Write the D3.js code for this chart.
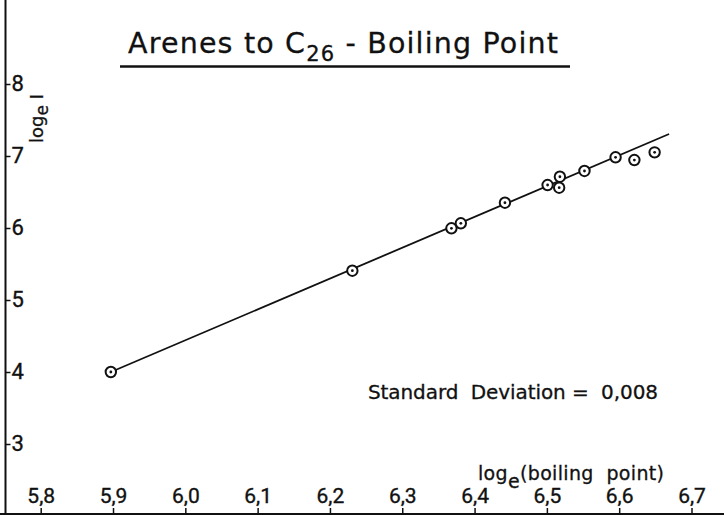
<!DOCTYPE html>
<html><head><meta charset="utf-8">
<script src="https://cdn.jsdelivr.net/npm/d3@7"></script>
<style>
body{margin:0;background:#fff;}
svg{display:block;}
text{font-family:Roboto,"Liberation Sans",sans-serif;fill:#111;}
.wide{font-family:"DejaVu Sans",sans-serif;stroke:#111;stroke-width:0.3;}
.tick text{stroke:#111;stroke-width:0.35;}
</style></head>
<body>
<svg id="chart" width="724" height="515"></svg>
<script>
// ---- data ----
const logBoilingPoint = [5.897, 6.231, 6.368, 6.381, 6.442, 6.501, 6.518, 6.517, 6.552, 6.595, 6.621, 6.649];
const logI            = [4.000, 5.407, 5.996, 6.065, 6.351, 6.597, 6.712, 6.560, 6.792, 6.982, 6.944, 7.051];
const fitLineX = [5.897, 6.669];
const fitLineY = [4.000, 7.306];
const xTicks = [5.8, 5.9, 6.0, 6.1, 6.2, 6.3, 6.4, 6.5, 6.6, 6.7];
const yTicks = [3, 4, 5, 6, 7, 8];
const titleMain = "Arenes to C", titleSub = "26", titleRest = " - Boiling Point";
const stdDevText = "Standard  Deviation =  0,008";

const svg = d3.select("#chart");
const x = d3.scaleLinear().domain([5.8, 6.7]).range([40.7, 691.5]);
const y = d3.scaleLinear().domain([3, 8]).range([444, 84]);
const fmt = d => d.toFixed(1).replace(".", ",");

// y axis line (full height)
svg.append("line").attr("x1", 5.5).attr("x2", 5.5).attr("y1", 0).attr("y2", 515)
  .attr("stroke", "#111").attr("stroke-width", 2);
// x axis line
svg.append("line").attr("x1", 0).attr("x2", 724).attr("y1", 514).attr("y2", 514)
  .attr("stroke", "#111").attr("stroke-width", 2);

const yAxis = svg.append("g").attr("transform", "translate(5.5,0)")
  .call(d3.axisRight(y).tickValues(yTicks).tickSize(5).tickPadding(1).tickFormat(d3.format("d")));
yAxis.select(".domain").remove();
yAxis.selectAll("line").attr("stroke", "#111").attr("stroke-width", 1.5);
yAxis.selectAll("text").attr("font-size", 22).attr("font-family", "Roboto").attr("fill", "#111").attr("dy", "0.28em");

const xAxis = svg.append("g").attr("transform", "translate(0,514)")
  .call(d3.axisTop(x).tickValues(xTicks).tickSize(6).tickPadding(5).tickFormat(fmt));
xAxis.select(".domain").remove();
xAxis.selectAll("line").attr("stroke", "#111").attr("stroke-width", 1.5);
xAxis.selectAll("text").attr("font-size", 21).attr("font-family", "Roboto").attr("fill", "#111");

// title
const t = svg.append("text").attr("class", "wide").attr("x", 128).attr("y", 53).attr("font-size", 28.5)
  .attr("textLength", 430).attr("lengthAdjust", "spacing");
t.append("tspan").text(titleMain);
t.append("tspan").attr("font-size", 21).attr("dy", 8).text(titleSub);
t.append("tspan").attr("dy", -8).text(titleRest);
svg.append("line").attr("x1", 120).attr("x2", 570).attr("y1", 66.5).attr("y2", 66.5)
  .attr("stroke", "#111").attr("stroke-width", 2.4);

// y label
const yl = svg.append("text").attr("class", "wide").attr("transform", "translate(43,143) rotate(-90)").attr("font-size", 18)
  .style("white-space", "pre");
yl.append("tspan").text("log");
yl.append("tspan").attr("dy", 5).attr("font-size", 17).text("e");
yl.append("tspan").attr("dy", -5).text(" I");

// x label
const xl = svg.append("text").attr("class", "wide").attr("x", 478).attr("y", 480).attr("font-size", 19).style("white-space", "pre")
  .attr("textLength", 186).attr("lengthAdjust", "spacing");
xl.append("tspan").text("log");
xl.append("tspan").attr("dy", 8).text("e");
xl.append("tspan").attr("dy", -8).text("(boiling  point)");

// std dev
svg.append("text").attr("class", "wide").attr("x", 368).attr("y", 399).attr("font-size", 20).style("white-space", "pre")
  .attr("textLength", 290).attr("lengthAdjust", "spacing").text(stdDevText);

// fit line
svg.append("path")
  .attr("d", d3.line().x(d => x(d[0])).y(d => y(d[1]))(d3.zip(fitLineX, fitLineY)))
  .attr("fill", "none").attr("stroke", "#111").attr("stroke-width", 1.8);

// points
const pts = d3.zip(logBoilingPoint, logI);
const g = svg.append("g");
g.selectAll("circle.o").data(pts).join("circle").attr("class", "o")
  .attr("cx", d => x(d[0])).attr("cy", d => y(d[1])).attr("r", 5.2)
  .attr("fill", "#fff").attr("stroke", "#111").attr("stroke-width", 2);
g.selectAll("circle.c").data(pts).join("circle").attr("class", "c")
  .attr("cx", d => x(d[0])).attr("cy", d => y(d[1])).attr("r", 1.4).attr("fill", "#111");
</script>
</body></html>
